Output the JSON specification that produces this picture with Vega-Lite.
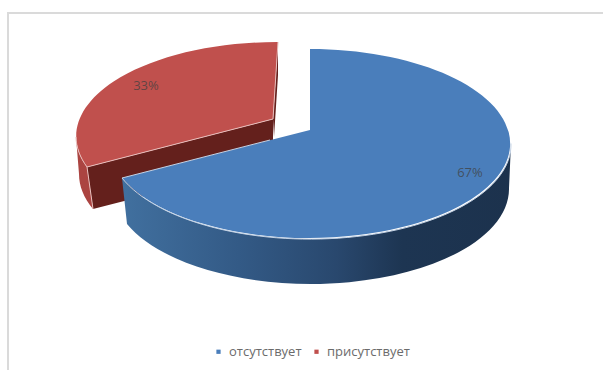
{
  "$schema": "https://vega.github.io/schema/vega-lite/v6.json",
  "width": 600,
  "height": 365,
  "autosize": "none",
  "padding": {"left": 8, "top": 13, "right": 0, "bottom": 0},
  "background": "white",
  "config": {"view": {"stroke": "#dadada", "strokeWidth": 2}},
  "data": {"values": [
    {"state": "отсутствует", "share": 0.67},
    {"state": "присутствует", "share": 0.33}
  ]},
  "encoding": {
    "x": {"field": "state", "type": "nominal", "axis": null, "scale": {"type": "point", "domain": ["отсутствует", "присутствует"], "range": [462, 138], "padding": 0}},
    "y": {"field": "state", "type": "nominal", "axis": null, "scale": {"type": "point", "domain": ["отсутствует", "присутствует"], "range": [160, 73], "padding": 0}}
  },
  "layer": [
    {
      "transform": [{"filter": "datum.state === 'присутствует'"}],
      "mark": {"type": "point", "filled": true, "size": 4, "opacity": 1, "fill": "#ab4441", "shape": "M-70,51A201,94.5 0 0 0 -59,81L-53,123A198,95 0 0 1 -67,88Z"}
    },
    {
      "transform": [{"filter": "datum.state === 'присутствует'"}],
      "mark": {"type": "point", "filled": true, "size": 4, "opacity": 1, "fill": "#64201c", "shape": "M-59,81L127,33L127,77L-53,123ZM132,-44L127,33L128,51L132,-11Z"}
    },
    {
      "transform": [{"filter": "datum.state === 'присутствует'"}],
      "mark": {"type": "point", "filled": true, "size": 4, "opacity": 1, "shape": "M127,33L132,-44A201,94.5 0 0 0 -59,81Z"},
      "encoding": {"color": {"field": "state", "type": "nominal", "scale": {"domain": ["отсутствует", "присутствует"], "range": ["#4a7ebb", "#c0504d"]}, "legend": {"title": null, "orient": "none", "legendX": 204, "legendY": 332, "direction": "horizontal", "symbolType": "square", "symbolSize": 18, "labelFont": "Open Sans", "labelFontSize": 13, "labelColor": "#6b6b6b", "columnPadding": 8, "labelOffset": 4}}}
    },
    {
      "transform": [{"filter": "datum.state === 'присутствует'"}],
      "mark": {"type": "point", "filled": false, "size": 4, "opacity": 1, "fill": null, "stroke": "#e8bdbb", "strokeWidth": 1, "shape": "M-70,51A201,94.5 0 0 0 -59,81L127,33L132,-44M-59,81L-53,123"}
    },
    {
      "transform": [{"filter": "datum.state === 'отсутствует'"}],
      "mark": {"type": "point", "filled": true, "size": 4, "opacity": 1, "shape": "M-348,5A201,94.5 0 0 0 41,-29.5L39,15A198,95 0 0 1 -343,51Z",
        "fill": {"gradient": "linear", "x1": 0, "y1": 0, "x2": 1, "y2": 0, "stops": [
          {"offset": 0, "color": "#41709f"},
          {"offset": 0.3, "color": "#335a86"},
          {"offset": 0.55, "color": "#29486e"},
          {"offset": 0.72, "color": "#1d3552"},
          {"offset": 1, "color": "#1c324d"}
        ]}}
    },
    {
      "transform": [{"filter": "datum.state === 'отсутствует'"}],
      "mark": {"type": "point", "filled": true, "size": 4, "opacity": 1, "shape": "M-160,-43L-160,-124A201,94.5 0 1 1 -348,5Z"},
      "encoding": {"color": {"field": "state", "type": "nominal"}}
    },
    {
      "transform": [{"filter": "datum.state === 'отсутствует'"}],
      "mark": {"type": "point", "filled": false, "size": 4, "opacity": 1, "fill": null, "stroke": "#c4d3e6", "strokeWidth": 1, "shape": "M41,-29.5A201,94.5 0 0 1 -348,5L-200,-33"}
    },
    {
      "mark": {"type": "text", "font": "Open Sans", "fontSize": 13, "fill": "#404040", "fillOpacity": 0.75},
      "encoding": {"text": {"field": "share", "type": "quantitative", "format": ".0%"}}
    }
  ]
}
